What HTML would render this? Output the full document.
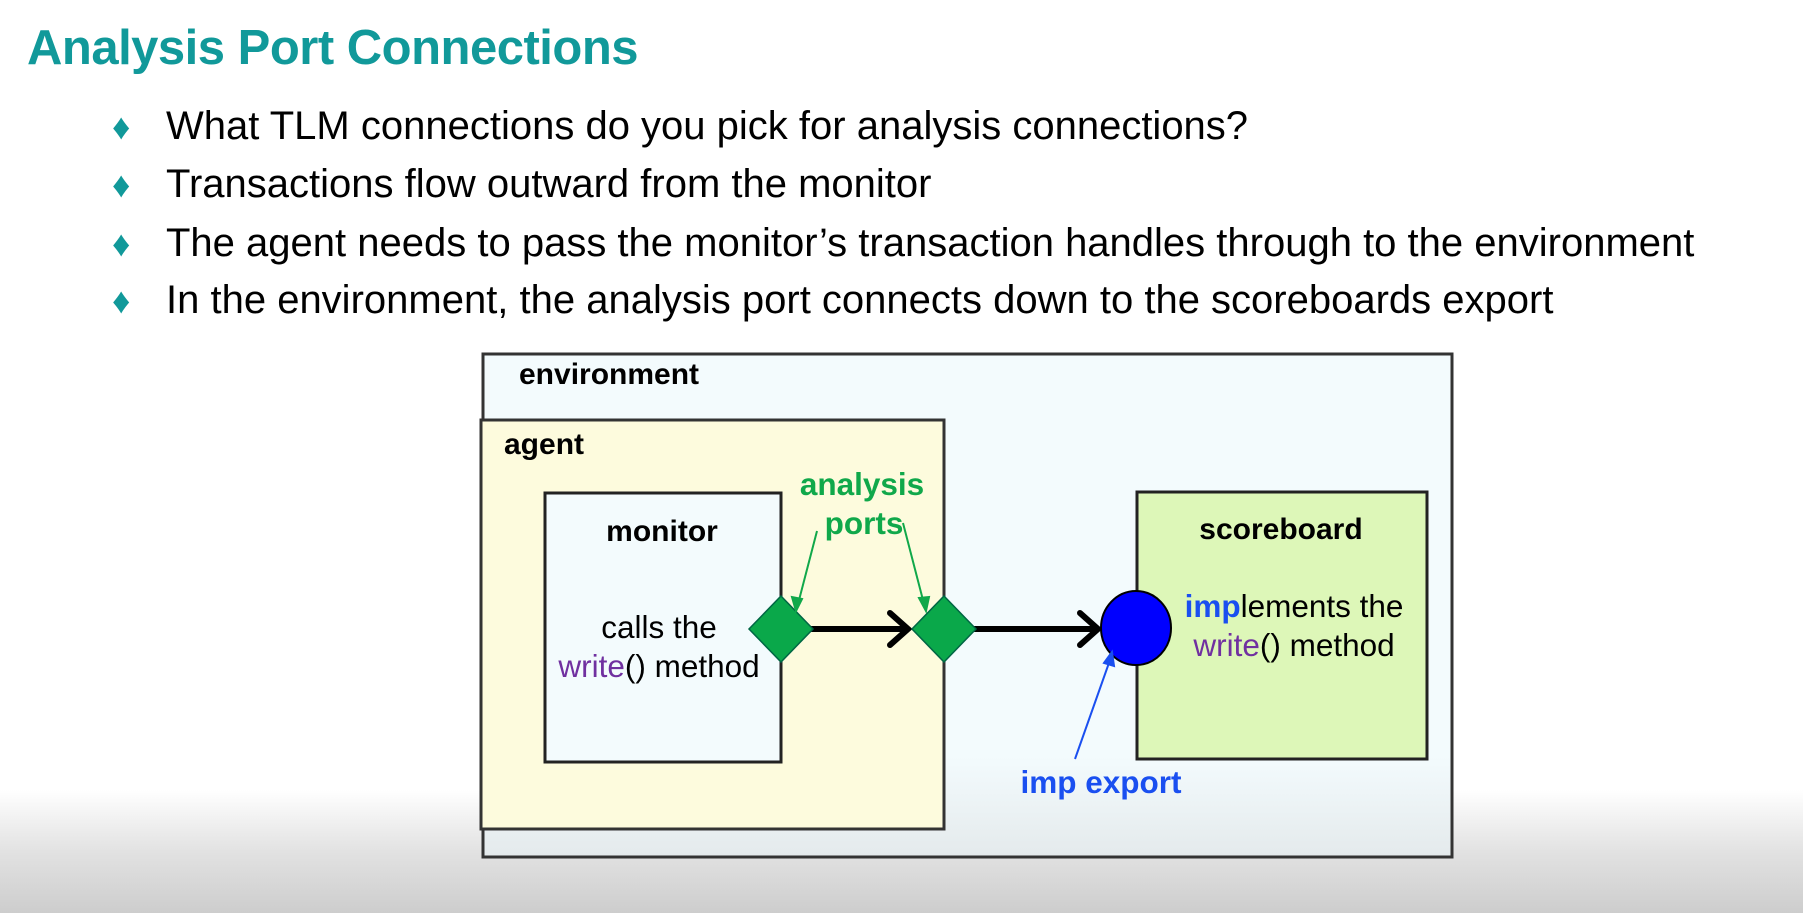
<!DOCTYPE html>
<html><head><meta charset="utf-8"><style>
body{margin:0;width:1803px;height:913px;overflow:hidden;font-family:"Liberation Sans",Arial,sans-serif;background:#fff;position:relative}
.t{position:absolute;white-space:nowrap}
#grad{position:absolute;left:0;top:790px;width:1803px;height:123px;background:linear-gradient(#ffffff,#e2e2e2 50%,#cdcdcd)}
.b{color:#11999a;font-size:36px}
</style></head><body>
<div id="grad"></div>
<div class="t" style="left:27px;top:20px;font-size:49px;font-weight:bold;color:#11999a;letter-spacing:-0.5px">Analysis Port Connections</div>
<div style="position:absolute;left:0;top:0;font-size:40px;color:#000">
<div class="t b" style="left:112px;top:106px">♦</div>
<div class="t" style="left:166px;top:104px">What TLM connections do you pick for analysis connections?</div>
<div class="t b" style="left:112px;top:164px">♦</div>
<div class="t" style="left:166px;top:162px">Transactions flow outward from the monitor</div>
<div class="t b" style="left:112px;top:223px">♦</div>
<div class="t" style="left:166px;top:221px">The agent needs to pass the monitor’s transaction handles through to the environment</div>
<div class="t b" style="left:112px;top:280px">♦</div>
<div class="t" style="left:166px;top:278px">In the environment, the analysis port connects down to the scoreboards export</div>
</div>
<svg width="1803" height="913" style="position:absolute;left:0;top:0" font-family="Liberation Sans, Arial, sans-serif">
<defs><linearGradient id="fade" x1="0" y1="0" x2="0" y2="1"><stop offset="0.8" stop-color="#f3fbfd"/><stop offset="1" stop-color="#e4eaec"/></linearGradient></defs>
<rect x="483" y="354" width="969" height="503" fill="url(#fade)" stroke="#333" stroke-width="3"/>
<text x="519" y="384" font-size="30" font-weight="bold">environment</text>
<rect x="481" y="420" width="463" height="409" fill="#fdfbdd" stroke="#333" stroke-width="3"/>
<text x="504" y="454" font-size="30" font-weight="bold">agent</text>
<rect x="545" y="493" width="236" height="269" fill="#f3fbfd" stroke="#222" stroke-width="3"/>
<text x="662" y="541" font-size="30" font-weight="bold" text-anchor="middle">monitor</text>
<text x="659" y="638" font-size="31.5" text-anchor="middle">calls the</text>
<text x="659" y="677" font-size="31.5" text-anchor="middle"><tspan fill="#7030a0">write</tspan>() method</text>
<rect x="1137" y="492" width="290" height="267" fill="#ddf7b8" stroke="#222" stroke-width="3"/>
<text x="1281" y="539" font-size="30" font-weight="bold" text-anchor="middle">scoreboard</text>
<text x="1294" y="617" font-size="31.5" text-anchor="middle"><tspan fill="#1a4ff0" font-weight="bold">imp</tspan>lements the</text>
<text x="1294" y="656" font-size="31.5" text-anchor="middle"><tspan fill="#7030a0">write</tspan>() method</text>
<g stroke="#000" stroke-width="6" fill="none" stroke-linecap="round">
<line x1="805" y1="629" x2="906" y2="629"/><polyline points="890,613 908,629 890,645"/>
<line x1="968" y1="629" x2="1096" y2="629"/><polyline points="1080,613 1098,629 1080,645"/>
</g>
<polygon points="781,596 813,629 781,662 749,629" fill="#0aa84a" stroke="#064" stroke-width="1.5"/>
<polygon points="944,596 976,629 944,662 912,629" fill="#0aa84a" stroke="#064" stroke-width="1.5"/>
<ellipse cx="1136" cy="628" rx="35" ry="37" fill="#0000ff" stroke="#000" stroke-width="2"/>
<text x="862" y="495" font-size="31.5" font-weight="bold" fill="#10a84a" text-anchor="middle">analysis</text>
<text x="864" y="534" font-size="31.5" font-weight="bold" fill="#10a84a" text-anchor="middle">ports</text>
<g stroke="#10a84a" stroke-width="2" fill="#10a84a">
<line x1="817" y1="531" x2="798" y2="604"/><polygon points="796,611 792,597 802,599"/>
<line x1="903" y1="523" x2="924" y2="604"/><polygon points="926,611 919,598 929,597"/>
</g>
<text x="1101" y="793" font-size="31.5" font-weight="bold" fill="#1a4ff0" text-anchor="middle">imp export</text>
<g stroke="#1a4ff0" stroke-width="2" fill="#1a4ff0">
<line x1="1075" y1="759" x2="1110" y2="660"/><polygon points="1112,652 1114,666 1104,663"/>
</g>
</svg>
</body></html>
